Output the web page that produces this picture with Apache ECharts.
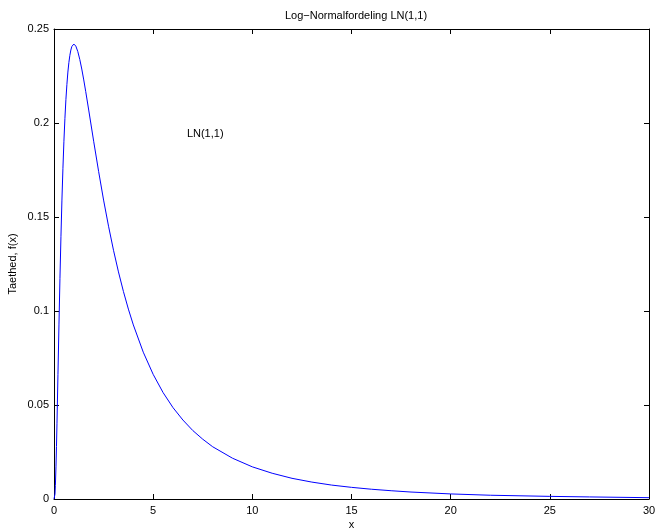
<!DOCTYPE html>
<html>
<head>
<meta charset="utf-8">
<script src="https://cdn.jsdelivr.net/npm/echarts@6/dist/echarts.min.js"></script>
<style>
html,body{margin:0;padding:0;background:#fff;}
#c{width:659px;height:532px;}
</style>
</head>
<body>
<div id="c"></div>
<script>
var xValues = [0, 0.02, 0.03, 0.05, 0.07, 0.1, 0.125, 0.15, 0.2, 0.25, 0.3, 0.35, 0.4, 0.45, 0.5, 0.55, 0.6, 0.65, 0.7, 0.75, 0.8, 0.85, 0.9, 0.95, 1, 1.1, 1.2, 1.3, 1.4, 1.5, 1.6, 1.75, 2, 2.25, 2.5, 2.75, 3, 3.25, 3.5, 3.75, 4, 4.5, 5, 5.5, 6, 6.5, 7, 7.5, 8, 9, 10, 11, 12, 13, 14, 15, 16, 17, 18, 20, 22, 25, 27, 30];
var densityValues = [0, 0.0001, 0.0005, 0.0027, 0.0071, 0.0171, 0.0279, 0.0400, 0.0663, 0.0926, 0.1172, 0.1395, 0.1590, 0.1759, 0.1903, 0.2024, 0.2124, 0.2205, 0.2271, 0.2322, 0.2360, 0.2388, 0.2407, 0.2417, 0.2420, 0.2409, 0.2380, 0.2338, 0.2287, 0.2229, 0.2167, 0.2069, 0.1903, 0.1742, 0.1590, 0.1451, 0.1323, 0.1208, 0.1104, 0.1010, 0.0926, 0.0781, 0.0663, 0.0566, 0.0486, 0.0420, 0.0364, 0.0318, 0.0278, 0.0217, 0.0171, 0.0137, 0.0110, 0.0090, 0.0074, 0.0062, 0.0052, 0.0044, 0.0037, 0.0027, 0.0020, 0.0014, 0.0011, 0.0007];
var xTicks = [0, 5, 10, 15, 20, 25, 30];
var yTicks = [0, 0.05, 0.1, 0.15, 0.2, 0.25];
var annotationText = 'LN(1,1)';
var annotationPos = [6.7, 0.194];
var titleText = 'Log\u2212Normalfordeling LN(1,1)';
var xLabel = 'x';
var yLabel = 'Taethed, f(x)';

var font = 'Liberation Sans, Arial, Helvetica, sans-serif';
var lineData = xValues.map(function (x, i) { return [x, densityValues[i]]; });

var chart = echarts.init(document.getElementById('c'), null, {renderer: 'canvas'});
var axisCommon = {
  axisLine: {show: true, onZero: false, lineStyle: {color: '#000', width: 1}},
  axisTick: {show: true, inside: true, length: 5, lineStyle: {color: '#000', width: 1}},
  splitLine: {show: false}
};
chart.setOption({
  animation: false,
  backgroundColor: '#fff',
  title: {
    text: titleText,
    left: 351, top: 5, textAlign: 'center',
    textStyle: {fontFamily: font, fontSize: 11, fontWeight: 'normal', color: '#000'}
  },
  grid: {left: 54, right: 10, top: 29, bottom: 33, containLabel: false, outerBoundsMode: 'none'},
  xAxis: [
    Object.assign({
      type: 'value', position: 'bottom', min: xTicks[0], max: xTicks[xTicks.length - 1], interval: xTicks[1] - xTicks[0],
      name: xLabel, nameLocation: 'middle', nameGap: 20, nameMoveOverlap: false,
      nameTextStyle: {fontFamily: font, fontSize: 11, color: '#000'},
      axisLabel: {fontFamily: font, fontSize: 11, color: '#000', margin: 6}
    }, axisCommon),
    Object.assign({
      type: 'value', position: 'top', min: xTicks[0], max: xTicks[xTicks.length - 1], interval: xTicks[1] - xTicks[0],
      axisLabel: {show: false}
    }, axisCommon)
  ],
  yAxis: [
    Object.assign({
      type: 'value', position: 'left', min: yTicks[0], max: yTicks[yTicks.length - 1], interval: yTicks[1] - yTicks[0],
      name: yLabel, nameLocation: 'middle', nameGap: 36, nameRotate: 90, nameMoveOverlap: false,
      nameTextStyle: {fontFamily: font, fontSize: 11, color: '#000'},
      axisLabel: {fontFamily: font, fontSize: 11, color: '#000', margin: 5}
    }, axisCommon),
    Object.assign({
      type: 'value', position: 'right', min: yTicks[0], max: yTicks[yTicks.length - 1], interval: yTicks[1] - yTicks[0],
      axisLabel: {show: false}
    }, axisCommon)
  ],
  series: [
    {
      type: 'line', data: lineData, xAxisIndex: 0, yAxisIndex: 0,
      showSymbol: false, smooth: false,
      lineStyle: {color: '#0000ff', width: 1},
      z: 1
    },
    {
      type: 'scatter', data: [annotationPos], symbolSize: 0,
      itemStyle: {opacity: 1},
      label: {show: true, position: 'right', distance: 0, formatter: annotationText,
        fontFamily: font, fontSize: 11, color: '#000', opacity: 1},
      emphasis: {disabled: true},
      silent: true
    }
  ]
});
</script>
</body>
</html>
